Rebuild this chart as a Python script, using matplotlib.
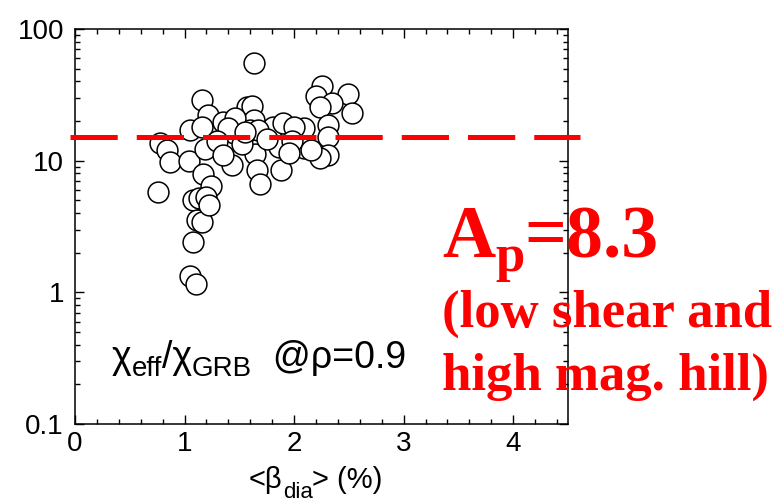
import matplotlib
matplotlib.use("Agg")
import matplotlib.pyplot as plt
from matplotlib.ticker import MultipleLocator, LogLocator, FixedLocator, FuncFormatter, NullFormatter

# <beta_dia> (%) and chi_eff/chi_GRB at rho = 0.9
beta_dia = [1.63, 2.25, 2.20, 2.49, 2.35, 2.24, 2.53, 1.16, 1.21, 1.57,
            1.62, 1.63, 1.35, 1.05, 1.16, 1.45, 1.60, 1.81, 1.90, 2.09,
            2.31, 2.31, 0.78, 0.84, 0.87, 1.04, 1.19, 1.43, 1.64, 1.66,
            1.86, 1.88, 2.09, 2.31, 2.24, 1.17, 0.76, 1.24, 1.08, 1.13,
            1.20, 1.11, 1.16, 1.08, 1.05, 1.10, 1.69, 1.67, 2.00, 1.46,
            1.40, 1.22, 1.30, 1.52, 1.75, 1.98, 1.35, 1.95, 2.15, 1.55]
chi_ratio = [55.1, 36.8, 30.9, 32.0, 27.4, 25.5, 23.0, 28.8, 22.2, 25.5,
             26.0, 20.3, 19.6, 17.1, 18.0, 16.2, 17.1, 18.0, 19.3, 17.7,
             18.6, 15.1, 13.6, 12.0, 9.76, 9.93, 12.2, 9.26, 11.2, 8.49,
             12.7, 8.49, 12.5, 11.0, 10.5, 7.91, 5.78, 6.42, 5.02, 5.20,
             5.29, 3.54, 3.42, 2.41, 1.33, 1.16, 6.64, 17.1, 18.0, 21.1,
             17.7, 4.60, 14.0, 13.5, 14.5, 14.0, 11.0, 11.5, 12.0, 16.5]

threshold = 15.0
x_ticks = [0, 1, 2, 3, 4]
y_ticks = [0.1, 1, 10, 100]

W, H = 778, 504
plt.rcParams.update({
    "font.family": ["Liberation Sans", "DejaVu Sans"],
    "lines.scale_dashes": False,
})

fig = plt.figure(figsize=(W / 100, H / 100), dpi=100)
ax = fig.add_axes([75 / W, 1 - 424 / H, (568 - 75) / W, (424 - 29) / H])

ax.scatter(beta_dia, chi_ratio, s=225, facecolor="white", edgecolor="black",
           linewidth=1.1, zorder=3)

# threshold line, running a little past the frame on both sides
ax.plot([-0.046, 4.61], [threshold, threshold], color="#ff0000", lw=3.6,
        linestyle=(0, (34, 13.7)), dash_capstyle="butt",
        clip_on=False, zorder=5)

ax.set_yscale("log")
ax.set_xlim(0, 4.5)
ax.set_ylim(0.1, 100)

ax.xaxis.set_major_locator(FixedLocator(x_ticks))
ax.xaxis.set_minor_locator(MultipleLocator(0.2))
ax.yaxis.set_major_locator(FixedLocator(y_ticks))
ax.yaxis.set_minor_locator(LogLocator(base=10, subs=range(2, 10)))
ax.yaxis.set_major_formatter(FuncFormatter(lambda v, _: "%g" % v))
ax.yaxis.set_minor_formatter(NullFormatter())

ax.tick_params(which="both", direction="in", top=True, right=True, width=1.0,
               colors="black")
ax.tick_params(which="major", length=6.5, labelsize=20)
ax.tick_params(axis="y", which="major", pad=8)
ax.tick_params(axis="x", which="major", pad=5)
ax.tick_params(which="minor", length=3.5)
for sp in ax.spines.values():
    sp.set_linewidth(1.1)

renderer = fig.canvas.get_renderer()


def run_text(x_px, base_px, pieces, **kw):
    """Write text pieces one after another; each piece is (string, size, drop_px)."""
    x = x_px
    for s, size, drop in pieces:
        t = fig.text(x / W, 1 - (base_px + drop) / H, s, fontsize=size,
                     va="baseline", ha="left", **kw)
        x += t.get_window_extent(renderer).width


# axis title with a lowered subscript
run_text(249, 488, [("<β", 21, 0), ("dia", 16, 10), ("> (%)", 21, 0)])

# in-plot label
run_text(112, 368, [("χ", 27, 0), ("eff", 20, 8), ("/χ", 27, 0),
                    ("GRB", 20, 8), ("  @ρ=0.9", 27, 0)])

red = "#ff0000"
serif = dict(color=red, family="Liberation Serif", weight="bold")
run_text(442, 257, [("A", 53, 0), ("p", 38, 14), ("=8.3", 53, 0)], **serif)
fig.text(442 / W, 1 - 327 / H, "(low shear and", fontsize=38,
         va="baseline", ha="left", **serif)
fig.text(442 / W, 1 - 390 / H, "high mag. hill)", fontsize=38,
         va="baseline", ha="left", **serif)

fig.savefig("out.png", dpi=100)
